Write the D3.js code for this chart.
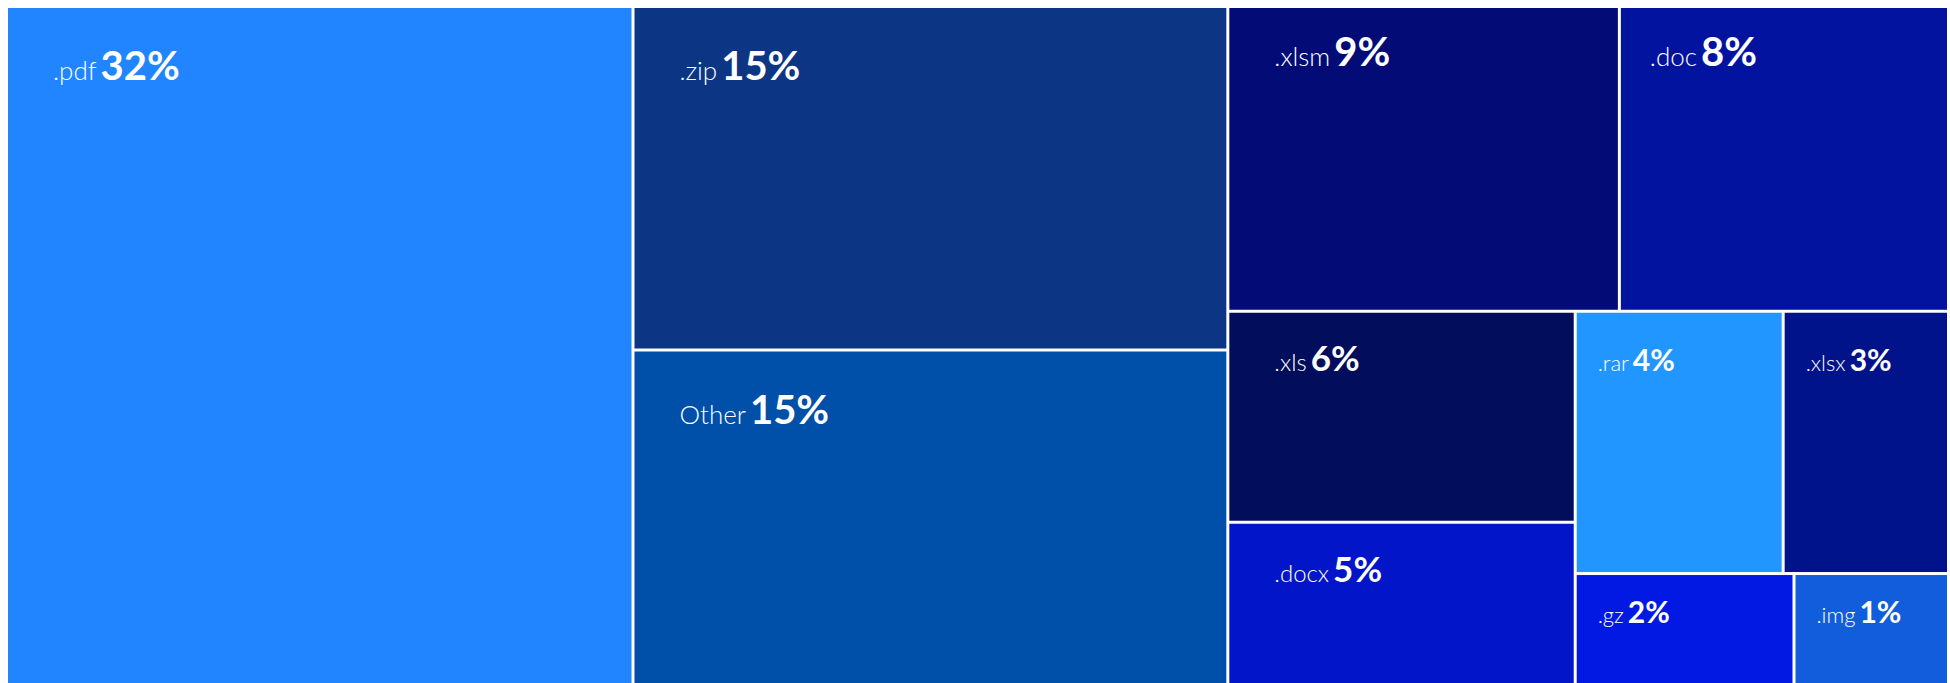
<!DOCTYPE html>
<html>
<head>
<meta charset="utf-8">
<script src="https://cdn.jsdelivr.net/npm/d3@7"></script>
<style>
  html, body { margin: 0; padding: 0; background: #ffffff; }
  svg { display: block; }
</style>
</head>
<body>
<svg id="chart" width="1950" height="683"></svg>
<script>
// ---- data ----
const names = [".pdf", ".zip", "Other", ".xlsm", ".doc", ".xls", ".docx", ".rar", ".xlsx", ".gz", ".img"];
const shares = [32.26, 15.36, 15.27, 8.97, 7.54, 5.51, 4.42, 4.10, 3.26, 1.94, 1.37];
const shareLabels = ["32%", "15%", "15%", "9%", "8%", "6%", "5%", "4%", "3%", "2%", "1%"];
const colors = ["#2185ff", "#0c3584", "#004fa8", "#020b76", "#0213a0", "#020d5c", "#0315c8", "#2296ff", "#01138a", "#0219e3", "#125ddb"];
// grouping of the tiles (indices into the arrays above), laid out slice-and-dice
const nesting = [0, [1, 2], [[3, 4], [[5, 6], [[7, 8], [9, 10]]]]];

// ---- layout ----
const chartW = 1939, chartH = 682, marginLeft = 8, marginTop = 8;
function build(n) {
  return Array.isArray(n) ? { children: n.map(build) } : { i: n, value: shares[n] };
}
const root = d3.hierarchy(build(nesting)).sum(d => d.children ? 0 : d.value);
d3.treemap().tile(d3.treemapSliceDice).size([chartW, chartH]).paddingInner(3).round(false)(root);

const dxScale = d3.scaleThreshold().domain([250, 340]).range([21, 29, 45]);
const dyScale = d3.scaleThreshold().domain([150, 330]).range([48, 58, 72]);
const numSize = d3.scaleThreshold().domain([4.3, 7]).range([30, 35, 40]);
const nameSize = d3.scaleThreshold().domain([4.3, 7]).range([22, 24, 26]);

const svg = d3.select("#chart");
const g = svg.append("g").attr("transform", `translate(${marginLeft},${marginTop})`);

const leaves = g.selectAll("g.cell").data(root.leaves()).join("g").attr("class", "cell");

leaves.append("rect")
  .attr("x", d => d.x0)
  .attr("y", d => d.y0)
  .attr("width", d => d.x1 - d.x0)
  .attr("height", d => d.y1 - d.y0)
  .attr("fill", d => colors[d.data.i]);

const txt = leaves.append("text")
  .attr("x", d => d.x0 + dxScale(d.x1 - d.x0))
  .attr("y", d => d.y0 + dyScale(d.y1 - d.y0))
  .attr("fill", "#ffffff")
  .style("font-family", "Lato, 'Open Sans', sans-serif");

txt.append("tspan")
  .text(d => names[d.data.i])
  .style("font-weight", 300)
  .style("font-size", d => nameSize(d.data.value) + "px");

txt.append("tspan")
  .attr("dx", 4)
  .text(d => shareLabels[d.data.i])
  .style("font-weight", 700)
  .style("font-size", d => numSize(d.data.value) + "px");
</script>
</body>
</html>
